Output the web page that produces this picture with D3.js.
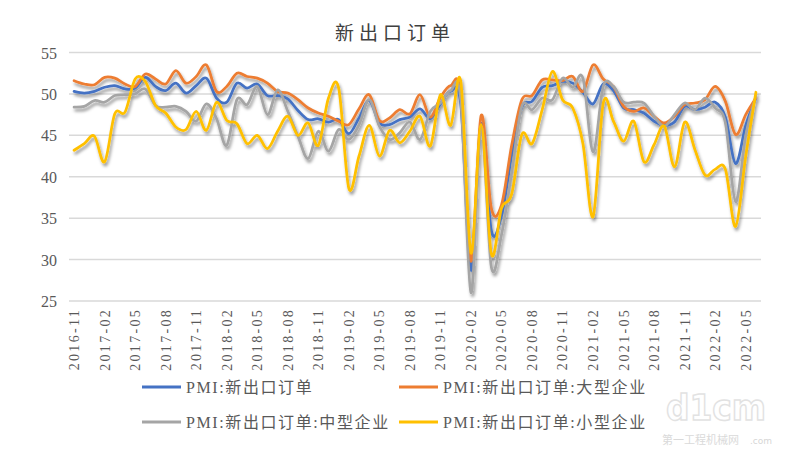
<!DOCTYPE html>
<html><head><meta charset="utf-8">
<script src="https://cdn.jsdelivr.net/npm/d3@7"></script>
<style>body{margin:0;background:#fff;}svg{display:block;}</style>
</head><body>
<svg id="chart" width="790" height="450"></svg>
<script>
const months = ["2016-11","2016-12",
"2017-01","2017-02","2017-03","2017-04","2017-05","2017-06","2017-07","2017-08","2017-09","2017-10","2017-11","2017-12",
"2018-01","2018-02","2018-03","2018-04","2018-05","2018-06","2018-07","2018-08","2018-09","2018-10","2018-11","2018-12",
"2019-01","2019-02","2019-03","2019-04","2019-05","2019-06","2019-07","2019-08","2019-09","2019-10","2019-11","2019-12",
"2020-01","2020-02","2020-03","2020-04","2020-05","2020-06","2020-07","2020-08","2020-09","2020-10","2020-11","2020-12",
"2021-01","2021-02","2021-03","2021-04","2021-05","2021-06","2021-07","2021-08","2021-09","2021-10","2021-11","2021-12",
"2022-01","2022-02","2022-03","2022-04","2022-05","2022-06"];

const tickLabels = ["2016-11","2017-02","2017-05","2017-08","2017-11","2018-02","2018-05","2018-08","2018-11","2019-02","2019-05","2019-08","2019-11","2020-02","2020-05","2020-08","2020-11","2021-02","2021-05","2021-08","2021-11","2022-02","2022-05"];
const yTicks = [25,30,35,40,45,50,55];

const overall = [50.3,50.1,
50.3,50.8,51.0,50.6,50.7,52.0,50.9,50.4,51.3,50.1,51.0,51.9,
49.5,49.0,51.3,50.7,51.2,49.8,49.8,49.4,48.0,46.9,47.0,46.6,
46.9,45.2,47.1,49.2,46.5,46.3,46.9,47.2,48.2,47.0,48.8,50.3,
48.7,28.7,46.4,33.5,35.3,42.6,48.4,49.1,50.8,51.0,51.5,51.3,
50.2,48.8,51.2,50.4,48.3,48.1,47.7,46.7,46.2,46.6,48.5,48.1,
48.4,49.0,47.2,41.6,46.2,49.5];

const large = [51.6,51.2,
51.1,52.0,51.9,51.2,50.9,52.4,51.8,51.2,52.8,51.3,52.1,53.5,
50.3,50.9,52.5,52.1,51.9,51.3,50.3,50.1,49.3,48.3,47.7,47.3,
46.7,46.3,48.2,49.9,46.8,47.1,48.1,47.6,49.9,47.2,49.6,51.0,
49.9,29.8,47.4,36.2,36.6,43.8,49.3,49.8,51.7,51.7,51.6,52.1,
50.3,53.5,51.8,50.9,48.5,47.9,48.3,47.3,46.5,47.3,48.7,48.9,
49.3,50.9,49.1,45.1,47.5,49.5];

const medium = [48.4,48.5,
49.2,49.0,49.8,49.9,50.0,50.6,48.6,48.4,48.5,47.9,46.7,48.8,
47.0,43.8,49.3,48.7,50.9,47.5,50.5,47.9,44.9,42.2,45.5,43.1,
45.7,44.5,46.3,49.3,46.1,44.5,45.3,46.6,44.5,47.9,48.9,50.4,
49.3,26.0,46.0,29.1,33.0,40.5,48.5,48.1,49.5,49.3,51.9,50.8,
51.9,43.0,50.9,50.9,49.0,49.0,48.9,47.3,46.1,47.5,48.9,48.1,
49.5,48.3,46.5,37.0,45.0,49.7];

const small = [43.2,44.0,
44.9,41.8,47.6,47.8,51.8,51.5,48.6,47.7,46.0,45.7,47.9,45.6,
49.0,46.8,46.4,44.0,45.0,43.4,45.5,47.3,45.0,46.5,43.8,49.5,
50.7,38.6,42.5,46.2,42.5,45.6,44.1,45.5,47.3,43.7,49.9,46.2,
51.5,30.8,46.3,30.7,36.2,37.9,45.1,44.0,48.1,52.7,49.3,48.3,
44.0,35.2,48.9,46.7,44.3,46.7,41.8,43.9,46.1,41.2,46.6,43.3,
40.2,40.9,40.9,34.0,42.5,50.2];

const seriesNames = ["PMI:新出口订单","PMI:新出口订单:大型企业","PMI:新出口订单:中型企业","PMI:新出口订单:小型企业"];
const seriesColors = ["#4472C4","#ED7D31","#A5A5A5","#FFC000"];
const seriesValues = [overall, large, medium, small];
const chartTitle = "新出口订单";

const svg = d3.select("#chart");
const plotLeft = 69, plotRight = 761, plotTop = 52.5, plotBottom = 301;

const defs = svg.append("defs");
const f = defs.append("filter").attr("id","shadow").attr("x","-10%").attr("y","-10%").attr("width","120%").attr("height","130%");
f.append("feDropShadow").attr("dx",1.5).attr("dy",3).attr("stdDeviation",1.8)
  .attr("flood-color","#000").attr("flood-opacity",0.4);

const x = d3.scaleBand().domain(months).range([plotLeft, plotRight]).padding(0);
const y = d3.scaleLinear().domain([25,55]).range([plotBottom, plotTop]);

// title
svg.append("text").attr("x", 395).attr("y", 40).attr("text-anchor","middle")
  .attr("font-family","'Noto Sans CJK SC'").attr("font-size",19).attr("letter-spacing",5)
  .attr("fill","#404040").text(chartTitle);

// gridlines
svg.append("g").selectAll("line").data(yTicks).join("line")
  .attr("x1", plotLeft).attr("x2", plotRight)
  .attr("y1", d => y(d)).attr("y2", d => y(d))
  .attr("stroke","#d9d9d9").attr("stroke-width",1.5);

// y axis labels
const yAxis = d3.axisLeft(y).tickValues(yTicks).tickSize(0).tickPadding(0);
const yg = svg.append("g").attr("transform", `translate(${57},0)`).call(yAxis);
yg.select(".domain").remove();
yg.selectAll("text").attr("font-family","'Liberation Serif'").attr("font-size",16)
  .attr("fill","#595959").attr("dy","0.35em");

// x axis labels
const xAxis = d3.axisBottom(x).tickValues(tickLabels).tickSize(0).tickPadding(0);
const xg = svg.append("g").attr("transform", `translate(0,${plotBottom})`).call(xAxis);
xg.select(".domain").remove();
xg.selectAll("text")
  .attr("font-family","'Liberation Serif'").attr("font-size",14).attr("letter-spacing",2.3)
  .attr("fill","#595959")
  .attr("text-anchor","end")
  .attr("transform","rotate(-90)")
  .attr("x",-7).attr("y",0).attr("dy","0.35em");

// lines
const line = d3.line().x((d,i) => x(months[i]) + x.bandwidth()/2).y(d => y(d))
  .curve(d3.curveCardinal.tension(0));
const lg = svg.append("g").attr("filter","url(#shadow)");
seriesValues.forEach((vals, k) => {
  lg.append("path").datum(vals).attr("d", line).attr("fill","none")
    .attr("stroke", seriesColors[k]).attr("stroke-width",2.75)
    .attr("stroke-linejoin","round").attr("stroke-linecap","round");
});

// legend
const legendPos = [[142,387],[399,387],[142,422],[399,422]];
seriesNames.forEach((name,k) => {
  const [lx, ly] = legendPos[k];
  svg.append("line").attr("x1",lx).attr("x2",lx+39).attr("y1",ly).attr("y2",ly)
    .attr("stroke",seriesColors[k]).attr("stroke-width",3);
  svg.append("text").attr("x",lx+44).attr("y",ly).attr("dy","0.35em")
    .attr("font-family","'Liberation Serif','Noto Sans CJK SC'").attr("font-size",16).attr("letter-spacing",1.6)
    .attr("fill","#595959").text(name);
});

// watermark
svg.append("text").attr("x",666).attr("y",420).attr("font-family","'DejaVu Sans'").attr("font-weight","bold")
  .attr("font-size",36).attr("textLength",100).attr("lengthAdjust","spacingAndGlyphs")
  .attr("fill","none").attr("stroke","#e2e2e2").attr("stroke-width",1.5).text("d1cm");
svg.append("text").attr("x",750).attr("y",444).attr("font-family","'DejaVu Sans'")
  .attr("font-size",9).attr("fill","#d6d6d6").text(".com");
svg.append("text").attr("x",662).attr("y",444).attr("font-family","'Noto Sans CJK SC'")
  .attr("font-size",11).attr("fill","#dadada").text("第一工程机械网");
</script>
</body></html>
